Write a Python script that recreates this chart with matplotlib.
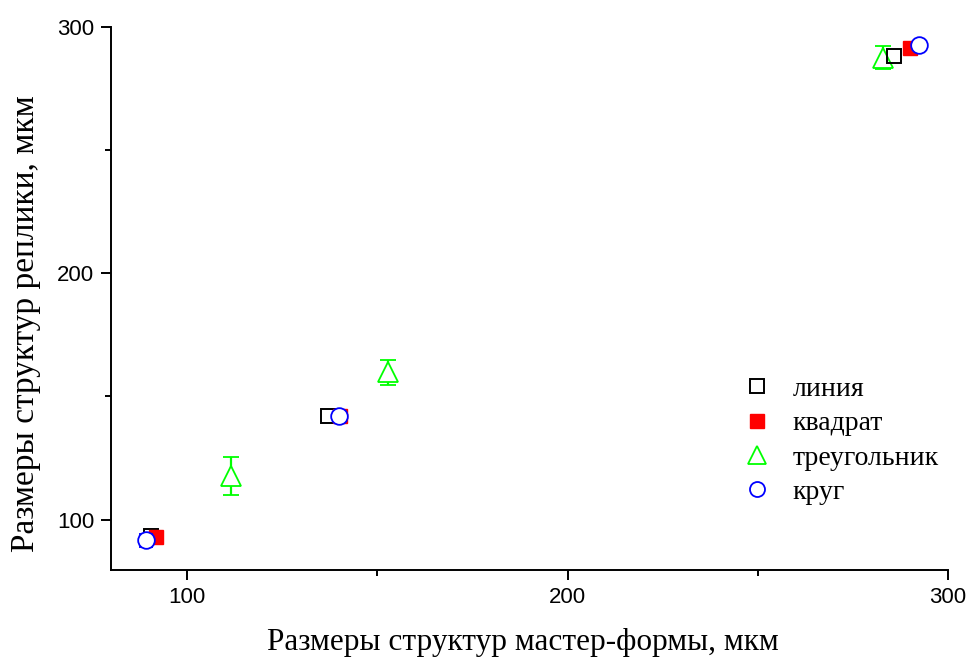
import matplotlib
matplotlib.use("Agg")
import matplotlib.pyplot as plt
from matplotlib.ticker import MultipleLocator

# Sizes of the master-form structures (x) and of the replica structures (y), µm
line_x = [90.5, 137.1, 285.9]
line_y = [93.5, 141.9, 288.2]

square_x = [91.8, 140.3, 290.1]
square_y = [93.1, 141.9, 291.3]

triangle_x = [111.6, 152.9, 282.9]
triangle_y = [117.5, 159.8, 287.6]
triangle_err = [7.7, 5.0, 4.7]

circle_x = [89.2, 140.0, 292.4]
circle_y = [91.5, 141.9, 292.7]
circle_err = [2.5, 1.0, 1.0]

labels = ["линия", "квадрат", "треугольник", "круг"]
x_ticks = [100, 200, 300]
y_ticks = [100, 200, 300]

fig = plt.figure(figsize=(9.71, 6.57), dpi=100)
ax = fig.add_axes([0.1143, 0.1324, 0.862, 0.8265])

h_tri = ax.errorbar(triangle_x, triangle_y, yerr=triangle_err, fmt="^",
                    color="#00ff00", mfc="white", mec="#00ff00", ms=14, mew=1.3,
                    elinewidth=1.6, capsize=6, capthick=1.6, zorder=2,
                    label=labels[2])
h_line, = ax.plot(line_x, line_y, "s", mfc="none", mec="black", ms=10.5,
                  mew=1.4, zorder=3, label=labels[0])
h_sq, = ax.plot(square_x, square_y, "s", mfc="red", mec="red", ms=10.5,
                mew=1.0, zorder=4, label=labels[1])
h_circ = ax.errorbar(circle_x, circle_y, yerr=circle_err, fmt="o",
                     color="blue", mfc="white", mec="blue", ms=12, mew=1.3,
                     elinewidth=1.6, capsize=5, capthick=1.6, zorder=5,
                     label=labels[3])

ax.set_xlim(80, 300)
ax.set_ylim(79.5, 300)
ax.xaxis.set_minor_locator(MultipleLocator(50))
ax.yaxis.set_minor_locator(MultipleLocator(50))
ax.set_xticks(x_ticks)
ax.set_yticks(y_ticks)

for side in ("top", "right"):
    ax.spines[side].set_visible(False)
for side in ("left", "bottom"):
    ax.spines[side].set_linewidth(1.4)

ax.tick_params(which="major", direction="out", length=7, width=1.4,
               labelsize=16, pad=5)
ax.tick_params(which="minor", direction="out", length=4, width=1.4)
for lab in ax.get_xticklabels() + ax.get_yticklabels():
    lab.set_fontfamily("Liberation Sans")

serif = "Liberation Serif"
ax.set_xlabel("Размеры структур мастер-формы, мкм", fontsize=22.5,
              fontfamily=serif)
ax.set_ylabel("Размеры структур реплики, мкм", fontsize=24,
              fontfamily=serif)
ax.xaxis.set_label_coords(0.492, -0.107)
ax.yaxis.set_label_coords(-0.084, 0.453)

leg = ax.legend(handles=[h_line, h_sq, h_tri[0], h_circ[0]], labels=labels,
                loc="center left", bbox_to_anchor=(0.725, 0.238), frameon=False,
                prop={"family": serif, "size": 20}, handletextpad=0.8,
                labelspacing=0.32, markerscale=0.9, handlelength=1.0)

fig.savefig("out.png", dpi=100)
